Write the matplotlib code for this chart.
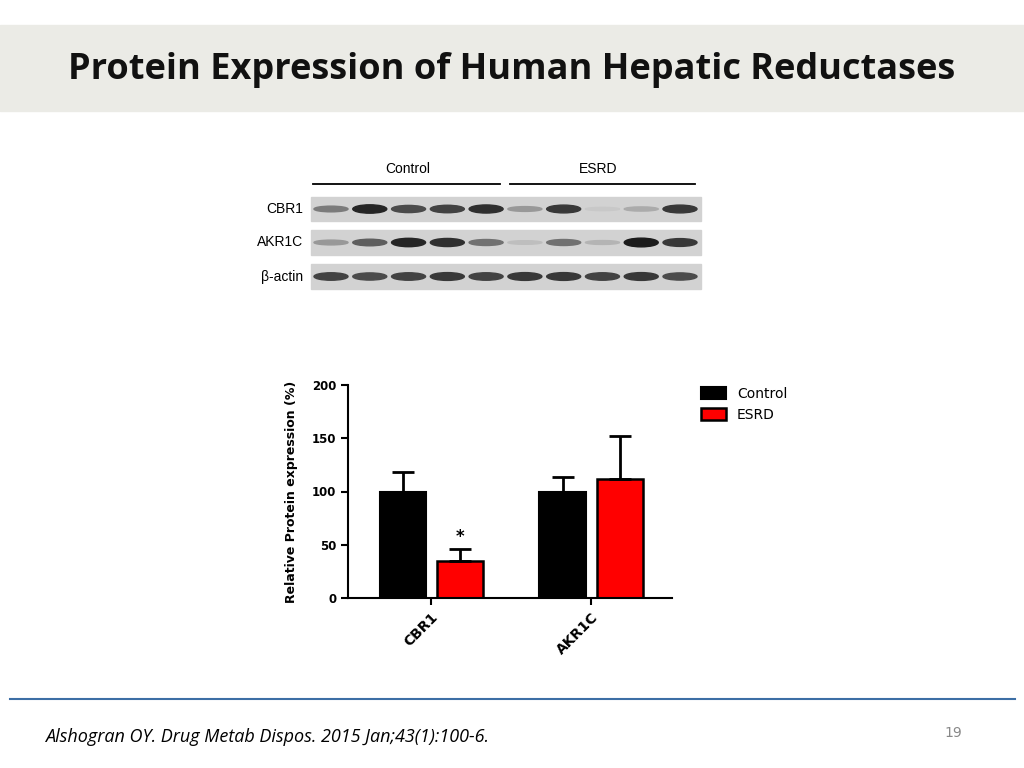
import numpy as np
import matplotlib.pyplot as plt
from matplotlib.patches import Rectangle, Ellipse

# ---------------- data ----------------
GROUPS = ["CBR1", "AKR1C"]
CONTROL_MEAN = [100, 100]
CONTROL_ERR = [18, 14]
ESRD_MEAN = [35, 112]
ESRD_ERR = [11, 40]
YTICKS = [0, 50, 100, 150, 200]

BLOT_ROWS = ["CBR1", "AKR1C", "β-actin"]
BLOT_INTENSITY = [
    [0.45, 0.9, 0.7, 0.75, 0.85, 0.3, 0.8, 0.05, 0.2, 0.8],
    [0.3, 0.6, 0.9, 0.85, 0.5, 0.1, 0.5, 0.15, 0.95, 0.8],
    [0.75, 0.7, 0.75, 0.8, 0.75, 0.8, 0.8, 0.75, 0.8, 0.7],
]

W, H = 1024, 768
fig = plt.figure(figsize=(W / 100, H / 100), dpi=100)

# slide background layer in pixel coordinates
bg = fig.add_axes([0, 0, 1, 1])
bg.set_xlim(0, W)
bg.set_ylim(H, 0)
bg.axis("off")

bg.add_patch(Rectangle((0, 25), W, 86, color="#ebebe6", zorder=0))
bg.text(512, 70, "Protein Expression of Human Hepatic Reductases",
        ha="center", va="center", fontsize=26, fontweight="bold",
        family="Open Sans", color="#111111")
bg.plot([10, 1015], [699, 699], color="#3c6ea5", lw=1.5)
bg.text(45, 737, "Alshogran OY. Drug Metab Dispos. 2015 Jan;43(1):100-6.",
        ha="left", va="center", fontsize=13, style="italic", family="Open Sans")
bg.text(953, 733, "19", ha="center", va="center", fontsize=10, color="#888888")

# ---------------- western blot ----------------
bg.text(408, 169, "Control", ha="center", va="center", fontsize=10, family="Liberation Sans")
bg.text(598, 169, "ESRD", ha="center", va="center", fontsize=10, family="Liberation Sans")
bg.plot([313, 500], [184, 184], color="black", lw=1.3)
bg.plot([510, 695], [184, 184], color="black", lw=1.3)

row_top = [197, 230, 264]
row_h = [24, 25, 25]
lane_x = np.linspace(331, 680, 10)
for name, top, h, vals in zip(BLOT_ROWS, row_top, row_h, BLOT_INTENSITY):
    bg.add_patch(Rectangle((311, top), 390, h, color="#d2d2d2", zorder=1))
    bg.text(303, top + h / 2, name, ha="right", va="center", fontsize=10,
            family="Liberation Sans")
    for x, v in zip(lane_x, vals):
        g = 0.82 - 0.75 * v
        bg.add_patch(Ellipse((x, top + h / 2), 34, 3 + 6 * v,
                             color=(g, g, g), zorder=2))

# ---------------- bar chart ----------------
ax = fig.add_axes([348 / W, 1 - 598 / H, 324 / W, 213 / H])
x = np.arange(1, len(GROUPS) + 1)
w = 0.29
ax.bar(x - 0.178, CONTROL_MEAN, w, color="black", edgecolor="black", lw=1.5,
       yerr=[[0, 0], CONTROL_ERR], error_kw=dict(lw=2, capsize=8, capthick=2),
       label="Control")
ax.bar(x + 0.18, ESRD_MEAN, w, color="#ff0000", edgecolor="black", lw=1.8,
       yerr=[[0, 0], ESRD_ERR], error_kw=dict(lw=2, capsize=8, capthick=2),
       label="ESRD")
ax.text(1 + 0.18, ESRD_MEAN[0] + ESRD_ERR[0] + 3, "*", ha="center",
        va="bottom", fontsize=12, fontweight="bold")

ax.set_xlim(0.48, 2.506)
ax.set_ylim(0, 200)
ax.set_yticks(YTICKS)
ax.set_yticklabels([str(t) for t in YTICKS], fontsize=8.5, fontweight="bold")
ax.set_xticks(x)
ax.set_xticklabels(GROUPS, rotation=45, ha="right", rotation_mode="anchor",
                   fontsize=10, fontweight="bold")
ax.spines[["top", "right"]].set_visible(False)
ax.spines[["left", "bottom"]].set_linewidth(1.5)
ax.tick_params(width=1.5, length=5)
ax.set_ylabel("Relative Protein expression (%)", fontsize=9, fontweight="bold",
              labelpad=10)
ax.legend(loc="upper left", bbox_to_anchor=(1.05, 1.05), frameon=False,
          fontsize=10, handlelength=1.8, handleheight=0.9)

fig.savefig("out.png", dpi=100)
